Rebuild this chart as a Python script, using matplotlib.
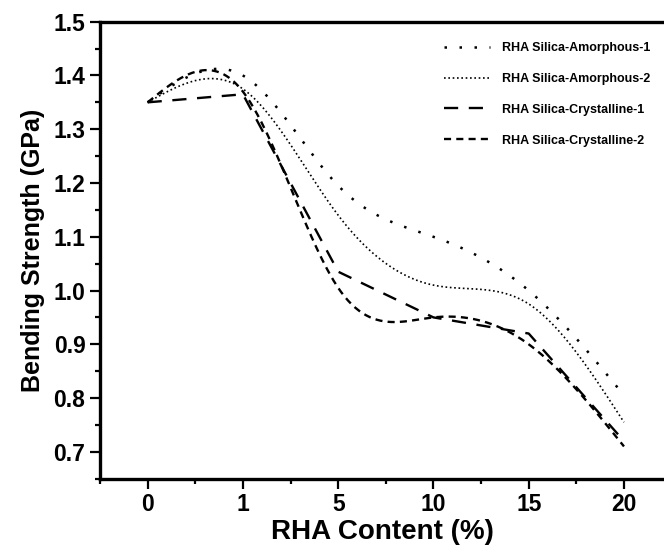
import numpy as np
import matplotlib
matplotlib.use("Agg")
import matplotlib.pyplot as plt
from matplotlib.ticker import MultipleLocator

plt.rcParams['font.family'] = ['Liberation Sans', 'DejaVu Sans']
plt.rcParams['font.weight'] = 'bold'

rha_content = ['0', '1', '5', '10', '15', '20']
amorphous_1 = [1.35, 1.40, 1.195, 1.10, 1.00, 0.805]
amorphous_2 = [1.35, 1.375, 1.14, 1.01, 0.975, 0.755]
crystalline_1 = [1.35, 1.365, 1.035, 0.95, 0.92, 0.72]
crystalline_2 = [1.35, 1.37, 1.005, 0.95, 0.90, 0.71]
labels = ['RHA Silica-Amorphous-1', 'RHA Silica-Amorphous-2',
          'RHA Silica-Crystalline-1', 'RHA Silica-Crystalline-2']


def natural_spline(x, y, n=400):
    x = np.asarray(x, float)
    y = np.asarray(y, float)
    k = len(x)
    h = np.diff(x)
    A = np.zeros((k, k))
    b = np.zeros(k)
    A[0, 0] = 1
    A[-1, -1] = 1
    for i in range(1, k - 1):
        A[i, i - 1] = h[i - 1]
        A[i, i] = 2 * (h[i - 1] + h[i])
        A[i, i + 1] = h[i]
        b[i] = 6 * ((y[i + 1] - y[i]) / h[i] - (y[i] - y[i - 1]) / h[i - 1])
    M = np.linalg.solve(A, b)
    xs = np.linspace(x[0], x[-1], n)
    idx = np.clip(np.searchsorted(x, xs) - 1, 0, k - 2)
    x0, x1 = x[idx], x[idx + 1]
    hh = x1 - x0
    ys = (M[idx] * (x1 - xs) ** 3 / (6 * hh) + M[idx + 1] * (xs - x0) ** 3 / (6 * hh)
          + (y[idx] / hh - M[idx] * hh / 6) * (x1 - xs)
          + (y[idx + 1] / hh - M[idx + 1] * hh / 6) * (xs - x0))
    return xs, ys


W, H = 664, 552
fig = plt.figure(figsize=(W / 100, H / 100), dpi=100)
left, right, top, bottom = 100, 664, 21.7, 478.7
ax = fig.add_axes([left / W, (H - bottom) / H, (right - left) / W, (bottom - top) / H])

pos = np.arange(len(rha_content))

xs, ys = natural_spline(pos, amorphous_1)
ax.plot(xs, ys, color='black', lw=1.8, linestyle=(0, (1, 5)),
        label=labels[0])
xs, ys = natural_spline(pos, amorphous_2)
ax.plot(xs, ys, color='black', lw=1.2, linestyle=(0, (1, 1.6)), label=labels[1])
ax.plot(pos, crystalline_1, color='black', lw=1.7, linestyle=(0, (6, 4.5)),
        label=labels[2])
xs, ys = natural_spline(pos, crystalline_2)
ax.plot(xs, ys, color='black', lw=1.7, linestyle=(0, (3, 2.2)), label=labels[3])

ax.set_xlim(-0.5, 5.42)
ax.set_ylim(0.65, 1.5)
ax.set_xticks(pos)
ax.set_xticklabels(rha_content)
ax.xaxis.set_minor_locator(MultipleLocator(0.5))
ax.yaxis.set_minor_locator(MultipleLocator(0.05))
ax.set_yticks(np.arange(0.7, 1.51, 0.1))

for s in ['left', 'bottom', 'top']:
    ax.spines[s].set_linewidth(2.4)
ax.spines['right'].set_visible(False)
ax.tick_params(which='major', direction='out', length=7.5, width=1.6,
               labelsize=16.5, pad=3)
ax.tick_params(which='minor', direction='out', length=3.8, width=1.6)
for t in ax.get_xticklabels() + ax.get_yticklabels():
    t.set_fontweight('bold')

ax.set_xlabel('RHA Content (%)', fontsize=20, fontweight='bold', labelpad=2)
ax.set_ylabel('Bending Strength (GPa)', fontsize=18, fontweight='bold', labelpad=6)

leg = ax.legend(loc='upper left', bbox_to_anchor=(0.61, 0.955), frameon=False,
                prop={'size': 9, 'weight': 'bold'}, handlelength=3.7,
                handletextpad=0.95, labelspacing=1.5, borderpad=0,
                borderaxespad=0)

fig.savefig('out.png', dpi=100)
